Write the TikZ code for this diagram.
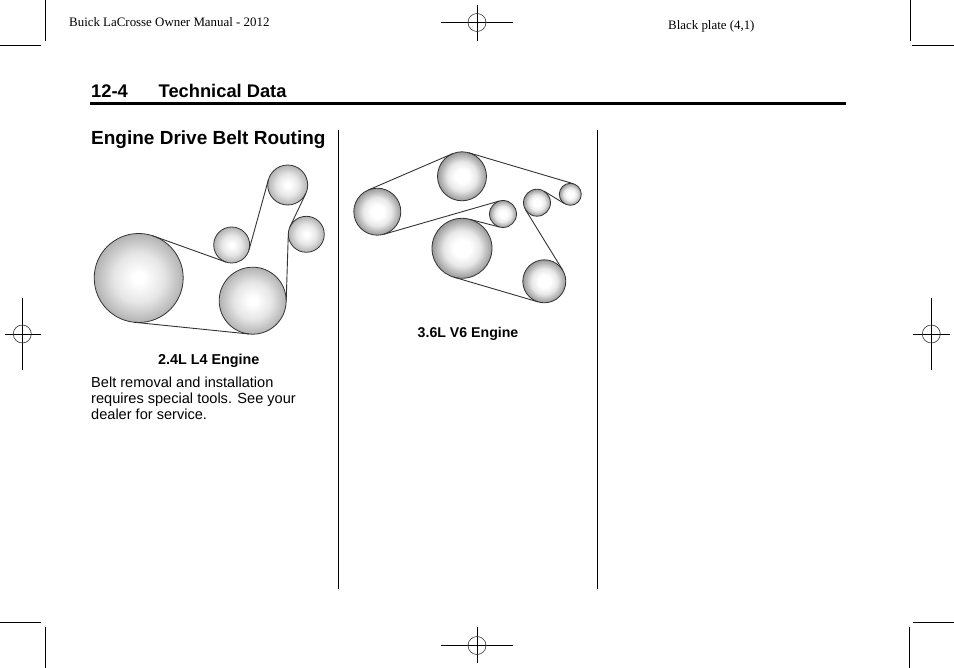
\documentclass[tikz,border=0pt]{standalone}
\usepackage{fontspec}
\setmainfont{Liberation Sans}
\newfontfamily\headserif{Liberation Serif}
\pgfdeclareradialshading{pulleylight}{\pgfpoint{0bp}{0bp}}{color(0bp)=(white);color(3bp)=(white);color(14bp)=(black!10);color(25bp)=(black!30);color(50bp)=(black!30)}
\pgfdeclareradialshading{pulleydark}{\pgfpoint{0bp}{0bp}}{color(0bp)=(white);color(7bp)=(white);color(15bp)=(black!9);color(25bp)=(black!40);color(50bp)=(black!40)}
\tikzset{
  x=1pt,y=-1pt,
  pulley/.style={circle,draw=black!80,line width=0.8pt,inner sep=0pt,outer sep=0pt,minimum size=#1*2pt},
  leftpulley/.style={pulley=#1,shading=pulleylight},
  rightpulley/.style={pulley=#1,shading=pulleydark},
  belt/.style={draw=black!80,line width=0.9pt},
  mark line/.style={draw=black,line width=0.9pt},
  mark ring/.style={draw=black!80,line width=0.6pt},
  column rule/.style={draw=black,line width=1pt},
  sidehead/.style={font=\bfseries\fontsize{18.3}{22}\selectfont,anchor=base west,inner sep=0pt},
  caption/.style={font=\bfseries\fontsize{14.35}{17}\selectfont,anchor=base west,inner sep=0pt},
  body/.style={font=\fontsize{14.57}{16}\selectfont,anchor=base west,inner sep=0pt},
  plate/.style={font=\headserif\fontsize{12.9}{14}\selectfont,anchor=base west,inner sep=0pt},
}
\begin{document}
\begin{tikzpicture}
\useasboundingbox (0,0) rectangle (954,668);
% crop marks
\draw[mark line] (45.5,0) -- (45.5,41);
\draw[mark line] (0,45) -- (41,45);
\draw[mark line] (910,0) -- (910,41);
\draw[mark line] (912,45) -- (954,45);
\draw[mark line] (45.5,627) -- (45.5,668);
\draw[mark line] (0,622.5) -- (41,622.5);
\draw[mark line] (909.7,627) -- (909.7,668);
\draw[mark line] (913,622.5) -- (954,622.5);
% registration marks
\draw[mark line] (441,22.5) -- (513,22.5);
\draw[mark line] (477,5) -- (477,41);
\draw[mark ring] (477,22.5) circle[radius=9];
\draw[mark line] (441,645.5) -- (513,645.5);
\draw[mark line] (477,627) -- (477,663);
\draw[mark ring] (477,645.5) circle[radius=9];
\draw[mark line] (5,334) -- (41,334);
\draw[mark line] (22.3,298) -- (22.3,370);
\draw[mark ring] (22.3,334) circle[radius=9];
\draw[mark line] (913,334) -- (950,334);
\draw[mark line] (931.3,298) -- (931.3,370);
\draw[mark ring] (931.3,334) circle[radius=9];
% header
\node[plate] (manual) at (69,26.5) {Buick LaCrosse Owner Manual - 2012};
\node[plate] (plate) at (668,30) {Black plate (4,1)};
\node[sidehead] (secnum) at (91,97.8) {12-4};
\node[sidehead] (sectitle) at (158.5,97.8) {Technical Data};
\draw[draw=black,line width=3.2pt] (90,103.5) -- (846,103.5);
\draw[column rule] (338,130) -- (338,589);
\draw[column rule] (597.7,130) -- (597.7,589);
\node[sidehead,font=\bfseries\fontsize{19}{22}\selectfont] (heading) at (91,145) {Engine Drive Belt Routing};
% 2.4L diagram
\node[leftpulley=44.5] (crank) at (138.7,278) {};
\node[leftpulley=18] (idlerA) at (231.7,245) {};
\node[leftpulley=20] (topA) at (287.7,185) {};
\node[leftpulley=18] (rightA) at (306.3,234.3) {};
\node[leftpulley=33.5] (lowerA) at (252.7,300.7) {};
\draw[belt] (crank.72) -- (idlerA.252);
\draw[belt] (idlerA.-16) -- (topA.164);
\draw[belt] (topA.-25) -- (rightA.155);
\draw[belt] (rightA.180) -- (lowerA.0);
\draw[belt] (lowerA.-96) -- (crank.-96);
\node[caption] (capA) at (158,364.5) {2.4L L4 Engine};
\node[body] (bodyA) at (91,387.5) {Belt removal and installation};
\node[body] (bodyB) at (91,403.5) {requires special tools. See your};
\node[body] (bodyC) at (91,419.5) {dealer for service.};
% 3.6L diagram
\node[rightpulley=23.5] (P) at (377.3,211.7) {};
\node[rightpulley=24.5] (Q) at (462,176.3) {};
\node[rightpulley=13.5] (R) at (503,214) {};
\node[rightpulley=30] (S) at (462,248.3) {};
\node[rightpulley=13.5] (T) at (537,202.7) {};
\node[rightpulley=11] (U) at (570.3,194.3) {};
\node[rightpulley=21.5] (V) at (544.3,281.3) {};
\draw[belt] (P.112) -- (Q.113);
\draw[belt] (Q.74) -- (U.74);
\draw[belt] (U.239) -- (T.59);
\draw[belt] (T.-148) -- (V.32);
\draw[belt] (V.-106) -- (S.-106);
\draw[belt] (S.75) -- (R.255);
\draw[belt] (R.106) -- (P.-74);
\node[caption,font=\bfseries\fontsize{14.15}{17}\selectfont] (capB) at (417.5,337.5) {3.6L V6 Engine};
\end{tikzpicture}
\end{document}
